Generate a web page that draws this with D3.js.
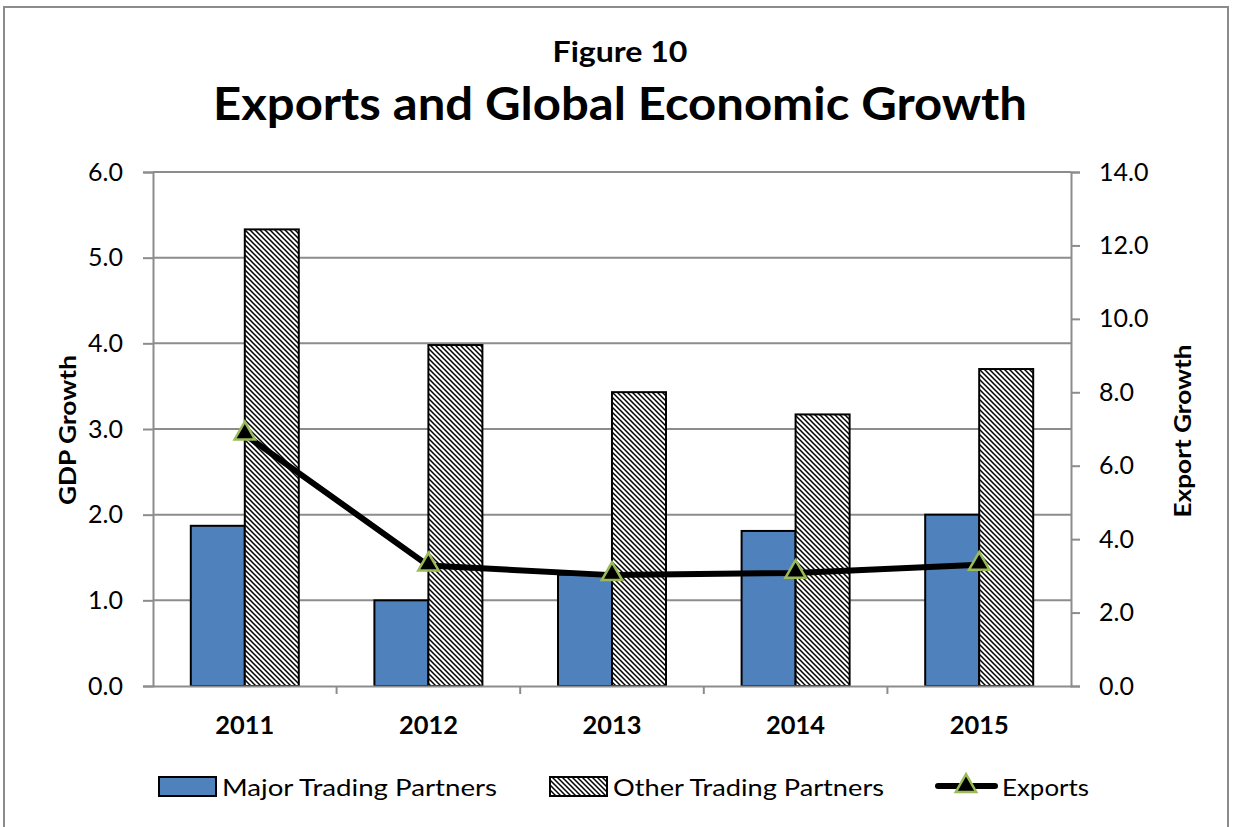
<!DOCTYPE html>
<html>
<head>
<meta charset="utf-8">
<script src="https://cdn.jsdelivr.net/npm/d3@7"></script>
<style>
  body { margin: 0; background: #fff; }
  svg { display: block; font-family: Lato, "Open Sans", sans-serif; }
</style>
</head>
<body>
<svg id="chart" width="1233" height="827"></svg>
<script>
const years = ['2011', '2012', '2013', '2014', '2015'];
const majorPartners = [1.87, 1.0, 1.3, 1.81, 2.0];
const otherPartners = [5.33, 3.98, 3.43, 3.17, 3.7];
const exportsGrowth = [6.85, 3.28, 3.02, 3.08, 3.3];
const leftTicks = [0, 1, 2, 3, 4, 5, 6];
const rightTicks = [0, 2, 4, 6, 8, 10, 12, 14];

const svg = d3.select('#chart');
const m = { left: 153, right: 1071, top: 172, bottom: 686 };

// hatch for "other" bars
const defs = svg.append('defs');
const pat = defs.append('pattern').attr('id', 'hatch').attr('patternUnits', 'userSpaceOnUse')
  .attr('width', 5).attr('height', 5);
pat.append('rect').attr('width', 5).attr('height', 5).attr('fill', '#fff');
pat.append('path').attr('d', 'M-1,-1 L6,6 M-4,1 L1,6 M1,-4 L6,1')
  .attr('stroke', '#000').attr('stroke-width', 1.5);

// outer frame
svg.append('rect').attr('x', 4).attr('y', 7).attr('width', 1224).attr('height', 830)
  .attr('fill', 'none').attr('stroke', '#8c8c8c').attr('stroke-width', 2);

svg.append('text').attr('x', 620).attr('y', 62).attr('text-anchor', 'middle')
  .attr('font-size', 28).attr('font-weight', 'bold')
  .attr('textLength', 135).attr('lengthAdjust', 'spacingAndGlyphs').text('Figure 10');
svg.append('text').attr('x', 620).attr('y', 120).attr('text-anchor', 'middle')
  .attr('font-size', 46).attr('font-weight', 'bold')
  .attr('textLength', 814).attr('lengthAdjust', 'spacingAndGlyphs')
  .text('Exports and Global Economic Growth');

const x = d3.scaleBand().domain(years).range([m.left, m.right]);
const yL = d3.scaleLinear().domain([0, 6]).range([m.bottom, m.top]);
const yR = d3.scaleLinear().domain([0, 14]).range([m.bottom, m.top]);

// gridlines
svg.append('g').selectAll('line').data(leftTicks.slice(1)).join('line')
  .attr('x1', m.left).attr('x2', m.right).attr('y1', d => yL(d)).attr('y2', d => yL(d))
  .attr('stroke', '#8c8c8c').attr('stroke-width', 2);

// left axis
const gl = svg.append('g').attr('transform', `translate(${m.left},0)`)
  .call(d3.axisLeft(yL).tickValues(leftTicks).tickFormat(d3.format('.1f')).tickSize(10).tickPadding(20));
// right axis
const gr = svg.append('g').attr('transform', `translate(${m.right},0)`)
  .call(d3.axisRight(yR).tickValues(rightTicks).tickFormat(d3.format('.1f')).tickSize(9).tickPadding(19));
[gl, gr].forEach(g => {
  g.select('.domain').attr('stroke', '#8c8c8c').attr('stroke-width', 2);
  g.selectAll('.tick line').attr('stroke', '#8c8c8c').attr('stroke-width', 2);
  g.selectAll('.tick text').attr('font-size', 25).attr('fill', '#000').attr('font-family', 'Lato, sans-serif');
});
gr.selectAll('.tick text').attr('text-anchor', 'start');

// bars
const bw = 54;
svg.append('g').selectAll('rect').data(years).join('rect')
  .attr('x', d => x(d) + x.bandwidth() / 2 - bw).attr('width', bw)
  .attr('y', (d, i) => yL(majorPartners[i])).attr('height', (d, i) => yL(0) - yL(majorPartners[i]))
  .attr('fill', '#4f81bd').attr('stroke', '#000').attr('stroke-width', 2);
svg.append('g').selectAll('rect').data(years).join('rect')
  .attr('x', d => x(d) + x.bandwidth() / 2).attr('width', bw)
  .attr('y', (d, i) => yL(otherPartners[i])).attr('height', (d, i) => yL(0) - yL(otherPartners[i]))
  .attr('fill', 'url(#hatch)').attr('stroke', '#000').attr('stroke-width', 2);

// x axis
const gx = svg.append('g').attr('transform', `translate(0,${m.bottom})`)
  .call(d3.axisBottom(x).tickSize(0).tickPadding(30));
gx.select('.domain').attr('stroke', '#8c8c8c').attr('stroke-width', 2);
gx.selectAll('.tick text').attr('font-size', 25).attr('font-weight', 'bold').attr('fill', '#000')
  .attr('font-family', 'Lato, sans-serif').attr('dy', '0.71em')
  .attr('textLength', 59).attr('lengthAdjust', 'spacingAndGlyphs');
gx.append('g').selectAll('line').data(years.slice(1)).join('line')
  .attr('x1', d => x(d)).attr('x2', d => x(d)).attr('y1', 0).attr('y2', 8)
  .attr('stroke', '#8c8c8c').attr('stroke-width', 2);

// exports line
const cx = d => x(d) + x.bandwidth() / 2;
svg.append('path').datum(years)
  .attr('d', d3.line().x(cx).y((d, i) => yR(exportsGrowth[i])))
  .attr('fill', 'none').attr('stroke', '#000').attr('stroke-width', 6).attr('stroke-linejoin', 'round');
const tri = d3.symbol().type(d3.symbolTriangle).size(180);
svg.append('g').selectAll('path').data(years).join('path')
  .attr('transform', (d, i) => `translate(${cx(d)},${yR(exportsGrowth[i]) - 1})`)
  .attr('d', tri).attr('fill', '#000').attr('stroke', '#9bbb59').attr('stroke-width', 2.5);

// axis titles
svg.append('text').attr('transform', 'translate(76,430) rotate(-90)').attr('text-anchor', 'middle')
  .attr('font-size', 22).attr('font-weight', 'bold')
  .attr('textLength', 150).attr('lengthAdjust', 'spacingAndGlyphs').text('GDP Growth');
svg.append('text').attr('transform', 'translate(1191,431) rotate(-90)').attr('text-anchor', 'middle')
  .attr('font-size', 22).attr('font-weight', 'bold')
  .attr('textLength', 173).attr('lengthAdjust', 'spacingAndGlyphs').text('Export Growth');

// legend
const lg = svg.append('g');
lg.append('rect').attr('x', 159).attr('y', 777).attr('width', 57).attr('height', 19)
  .attr('fill', '#4f81bd').attr('stroke', '#000').attr('stroke-width', 2);
lg.append('text').attr('x', 222).attr('y', 796).attr('font-size', 24)
  .attr('textLength', 275).attr('lengthAdjust', 'spacingAndGlyphs').text('Major Trading Partners');
lg.append('rect').attr('x', 550).attr('y', 777).attr('width', 57).attr('height', 19)
  .attr('fill', 'url(#hatch)').attr('stroke', '#000').attr('stroke-width', 2);
lg.append('text').attr('x', 613).attr('y', 796).attr('font-size', 24)
  .attr('textLength', 271).attr('lengthAdjust', 'spacingAndGlyphs').text('Other Trading Partners');
lg.append('line').attr('x1', 938).attr('x2', 995).attr('y1', 786).attr('y2', 786)
  .attr('stroke', '#000').attr('stroke-width', 6).attr('stroke-linecap', 'round');
lg.append('path').attr('transform', 'translate(966,786)').attr('d', tri)
  .attr('fill', '#000').attr('stroke', '#9bbb59').attr('stroke-width', 2.5);
lg.append('text').attr('x', 1002).attr('y', 796).attr('font-size', 24)
  .attr('textLength', 87).attr('lengthAdjust', 'spacingAndGlyphs').text('Exports');
</script>
</body>
</html>
